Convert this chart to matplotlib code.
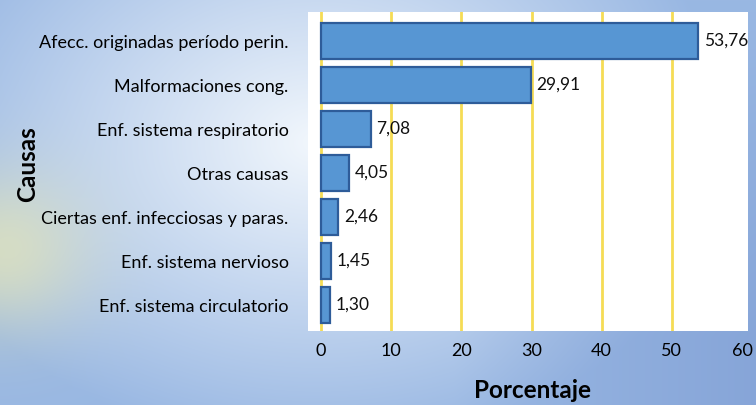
import numpy as np
import matplotlib
matplotlib.use('Agg')
import matplotlib.pyplot as plt

causas = ['Afecc. originadas período perin.', 'Malformaciones cong.',
          'Enf. sistema respiratorio', 'Otras causas',
          'Ciertas enf. infecciosas y paras.', 'Enf. sistema nervioso',
          'Enf. sistema circulatorio']
porcentaje = [53.76, 29.91, 7.08, 4.05, 2.46, 1.45, 1.30]
xticks = [0, 10, 20, 30, 40, 50, 60]

plt.rcParams['font.family'] = ['Lato', 'DejaVu Sans']

fig = plt.figure(figsize=(7.56, 4.05), dpi=100)

# gradient background
bg = fig.add_axes([0, 0, 1, 1], zorder=-10)
bg.axis('off')
h, w = 405, 756
yy, xx = np.mgrid[0:h, 0:w]
xn = xx / w
yn = yy / h
white = np.array([0.95, 0.97, 0.99])
blue = np.array([0.60, 0.72, 0.89])
dark = np.array([0.48, 0.60, 0.82])
yellow = np.array([0.93, 0.92, 0.70])
# distance from a light center
d = np.sqrt(((xn - 0.42) / 0.55) ** 2 + ((yn - 0.35) / 0.75) ** 2)
t = np.clip(d, 0, 1)[..., None]
img = white * (1 - t) + blue * t
# darker on the right/bottom
r = np.clip((xn - 0.6) / 0.4, 0, 1)[..., None] * np.clip(yn * 1.2, 0, 1)[..., None]
img = img * (1 - 0.6 * r) + dark * 0.6 * r
# pale yellow glow at left
g = np.exp(-(((xn - 0.0) / 0.12) ** 2 + ((yn - 0.62) / 0.2) ** 2))[..., None]
img = img * (1 - 0.65 * g) + yellow * 0.65 * g
bg.imshow(img, aspect='auto', extent=[0, 1, 0, 1], transform=bg.transAxes)

ax = fig.add_axes([308 / 756, 1 - 331 / 405, 440 / 756, 319 / 405])
ax.set_facecolor('white')
y = np.arange(len(causas))
ax.barh(y, porcentaje, height=0.82, color='#5796d3', edgecolor='#2e5c99',
        linewidth=1.6, zorder=3)
for yi, v in zip(y, porcentaje):
    ax.text(v + 0.8, yi, '{:.2f}'.format(v).replace('.', ','), va='center',
            ha='left', fontsize=12.5, color='#111111')

for xt in xticks[:-1]:
    ax.axvline(xt, color='#f5dc55', linewidth=2, zorder=1)

ax.set_xlim(-1.85, 60.85)
ax.set_ylim(6.59, -0.66)
ax.set_xticks(xticks)
ax.set_xticklabels([str(x) for x in xticks], fontsize=13)
ax.set_yticks(y)
ax.set_yticklabels(causas, fontsize=13)
ax.tick_params(length=0, pad=9)
ax.tick_params(axis='y', pad=14)
for s in ax.spines.values():
    s.set_visible(False)

fig.text(533 / 756, 1 - 391 / 405, 'Porcentaje', ha='center', va='center',
         fontsize=17.5, fontweight='bold')
fig.text(28 / 756, 1 - 164 / 405, 'Causas', ha='center', va='center',
         fontsize=17.5, fontweight='bold', rotation=90)

fig.savefig('out.png', dpi=100)
